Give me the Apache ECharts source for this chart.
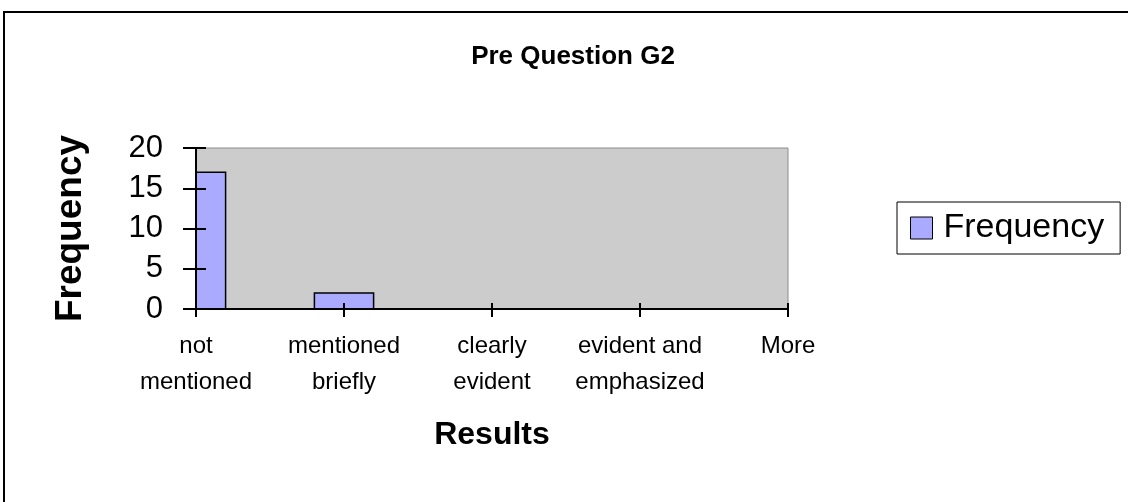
<!DOCTYPE html>
<html>
<head>
<meta charset="utf-8">
<script src="https://cdn.jsdelivr.net/npm/echarts@6/dist/echarts.min.js"></script>
<style>
    html, body { margin: 0; padding: 0; background: #fff; }
    #chart { width: 1128px; height: 502px; }
</style>
</head>
<body>
<div id="chart"></div>
<script>
var categories = ['not\nmentioned', 'mentioned\nbriefly', 'clearly\nevident', 'evident and\nemphasized', 'More'];
var frequency = [17, 2, 0, 0, 0];
var yTicks = { min: 0, max: 20, interval: 5 };

var font = '"Liberation Sans", Arial, sans-serif';

// bars sit on the ticks (histogram style) and get cut at the plot edge
function renderBar(params, api) {
    var idx = api.value(0);
    var base = api.coord([idx, 0]);
    var top = api.coord([idx, api.value(1)]);
    var step = api.coord([1, 0])[0] - api.coord([0, 0])[0];
    var w = step * 0.4;
    var cs = params.coordSys;
    var rect = echarts.graphic.clipRectByRect(
        { x: base[0] - w / 2, y: top[1], width: w, height: base[1] - top[1] },
        { x: cs.x, y: cs.y, width: cs.width, height: cs.height }
    );
    if (!rect || rect.height <= 0) {
        return null;
    }
    return {
        type: 'rect',
        shape: rect,
        style: api.style({ fill: '#aaaaff', stroke: '#000', lineWidth: 1.5 })
    };
}

var myChart = echarts.init(document.getElementById('chart'));
myChart.setOption({
    animation: false,
    backgroundColor: '#fff',
    title: {
        text: 'Pre Question G2',
        left: 573,
        top: 44,
        padding: 0,
        textAlign: 'center',
        textStyle: { fontFamily: font, fontWeight: 'bold', fontSize: 26, color: '#000' }
    },
    graphic: [{
        type: 'rect',
        shape: { x: 4, y: 12, width: 1300, height: 700 },
        style: { fill: 'none', stroke: '#000', lineWidth: 2 },
        silent: true
    }],
    legend: {
        left: 897,
        top: 202,
        orient: 'vertical',
        padding: [9, 16, 9, 13],
        borderColor: '#000',
        borderWidth: 1,
        itemWidth: 22,
        itemHeight: 22,
        icon: 'rect',
        itemStyle: { color: '#aaaaff', borderColor: '#000', borderWidth: 1 },
        textStyle: { fontFamily: font, fontSize: 34, color: '#000', padding: [0, 0, 0, 6] },
        data: ['Frequency']
    },
    grid: {
        left: 196,
        right: 340,
        top: 148,
        bottom: 193,
        show: true,
        backgroundColor: '#cccccc',
        borderColor: '#8c8c8c',
        borderWidth: 1
    },
    xAxis: [{
        type: 'category',
        data: categories,
        boundaryGap: false,
        z: 5,
        name: 'Results',
        nameLocation: 'middle',
        nameGap: 110,
        nameTextStyle: { fontFamily: font, fontWeight: 'bold', fontSize: 32, color: '#000' },
        axisLine: { lineStyle: { color: '#000', width: 2 } },
        axisTick: { alignWithLabel: true, length: 8, lineStyle: { color: '#000', width: 2 } },
        axisLabel: {
            interval: 0,
            margin: 19,
            fontFamily: font,
            fontSize: 24,
            lineHeight: 36,
            color: '#000'
        },
        splitLine: { show: false }
    }, {
        type: 'category',
        data: categories,
        boundaryGap: false,
        position: 'bottom',
        z: 5,
        axisLine: { show: false },
        axisTick: { inside: true, length: 6, lineStyle: { color: '#000', width: 2 } },
        axisLabel: { show: false },
        splitLine: { show: false }
    }],
    yAxis: [{
        type: 'value',
        min: yTicks.min,
        max: yTicks.max,
        interval: yTicks.interval,
        z: 5,
        name: 'Frequency',
        nameLocation: 'middle',
        nameGap: 107,
        nameTextStyle: { fontFamily: font, fontWeight: 'bold', fontSize: 37, color: '#000' },
        axisLine: { show: true, lineStyle: { color: '#000', width: 2 } },
        axisTick: { show: true, length: 13, lineStyle: { color: '#000', width: 2 } },
        axisLabel: { margin: 33, fontFamily: font, fontSize: 31, color: '#000' },
        splitLine: { show: false }
    }, {
        type: 'value',
        min: yTicks.min,
        max: yTicks.max,
        interval: yTicks.interval,
        position: 'left',
        z: 5,
        axisLine: { show: false },
        axisTick: { show: true, inside: true, length: 10, lineStyle: { color: '#000', width: 2 } },
        axisLabel: { show: false },
        splitLine: { show: false }
    }],
    series: [{
        name: 'Frequency',
        type: 'custom',
        renderItem: renderBar,
        z: 2,
        itemStyle: { color: '#aaaaff', borderColor: '#000', borderWidth: 1.5 },
        encode: { x: 0, y: 1 },
        data: frequency.map(function (v, i) { return [i, v]; })
    }]
});
</script>
</body>
</html>
